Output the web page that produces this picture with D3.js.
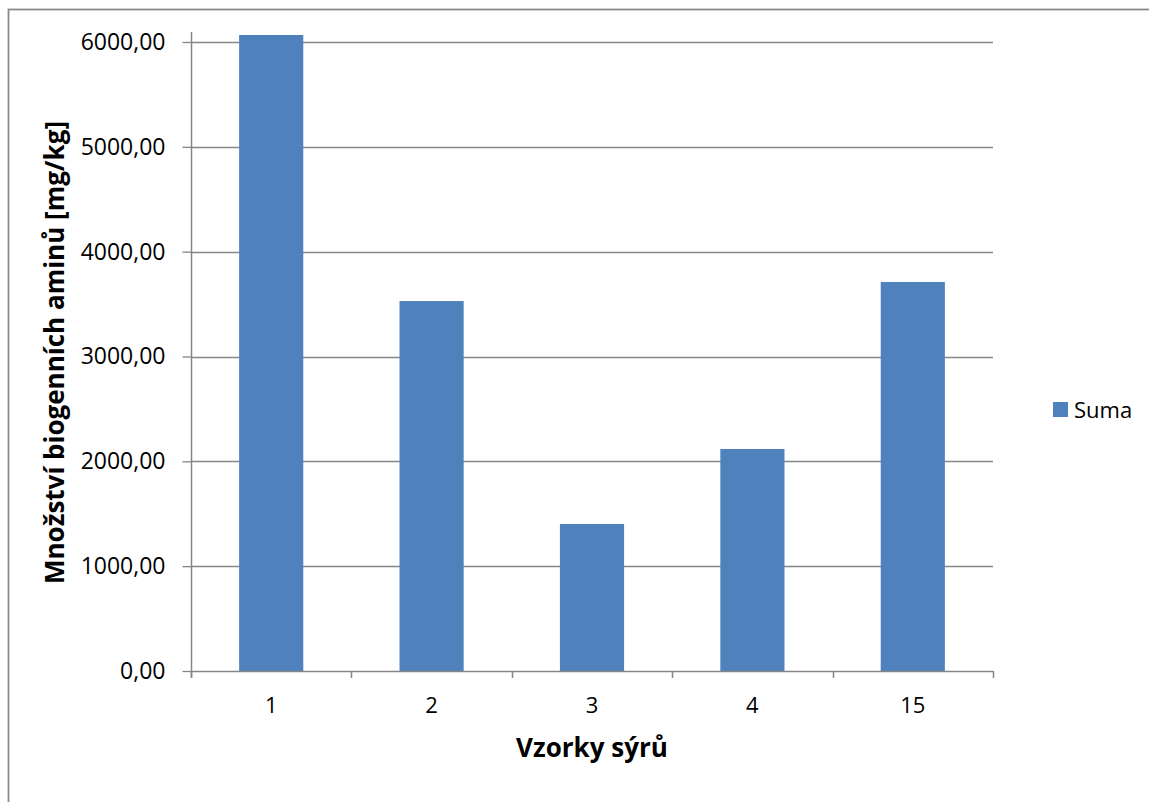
<!DOCTYPE html>
<html>
<head>
<meta charset="utf-8">
<script src="https://cdn.jsdelivr.net/npm/d3@7/dist/d3.min.js"></script>
<style>
  html, body { margin: 0; padding: 0; background: #fff; }
  svg { display: block; }
  text { font-family: "Open Sans", "Liberation Sans", sans-serif; fill: #000; }
</style>
</head>
<body>
<svg id="chart" width="1149" height="802"></svg>
<script>
// ---- data ----
const categories = ["1", "2", "3", "4", "15"];
const values = [6067, 3529, 1402, 2118, 3711];
const yTicks = [0, 1000, 2000, 3000, 4000, 5000, 6000];
const seriesName = "Suma";
const xTitle = "Vzorky sýrů";
const yTitle = "Množství biogenních aminů [mg/kg]";

// ---- layout ----
const W = 1149, H = 802;
const plot = { left: 191, right: 993, top: 42, bottom: 671 };
const gridColor = "#868686";
const barColor = "#4F81BD";

const svg = d3.select("#chart");

// outer chart border
svg.append("rect")
  .attr("x", 8.5).attr("y", 9.5)
  .attr("width", 1300).attr("height", 1000)
  .attr("fill", "#fff")
  .attr("stroke", "#8a8a8a").attr("stroke-width", 1.8);

const x = d3.scaleBand()
  .domain(categories)
  .range([plot.left, plot.right])
  .paddingInner(0.6).paddingOuter(0.3);

const y = d3.scaleLinear()
  .domain([0, 6000])
  .range([plot.bottom, plot.top]);

// gridlines
svg.append("g")
  .selectAll("line")
  .data(yTicks.filter(d => d > 0))
  .join("line")
  .attr("x1", plot.left).attr("x2", plot.right)
  .attr("y1", d => Math.round(y(d)) + 0.5).attr("y2", d => Math.round(y(d)) + 0.5)
  .attr("stroke", gridColor).attr("stroke-width", 1.3);

// bars
svg.append("g")
  .selectAll("rect")
  .data(values)
  .join("rect")
  .attr("x", (d, i) => x(categories[i]))
  .attr("width", x.bandwidth())
  .attr("y", d => y(d))
  .attr("height", d => y(0) - y(d))
  .attr("fill", barColor);

// y axis
const yAxis = d3.axisLeft(y)
  .tickValues(yTicks)
  .tickSize(9)
  .tickPadding(17)
  .tickFormat(d => d3.format(".2f")(d).replace(".", ","));
const gy = svg.append("g")
  .attr("transform", `translate(${plot.left + 0.5},0)`)
  .call(yAxis);
gy.select(".domain").remove();
gy.selectAll(".tick line").attr("stroke", gridColor).attr("stroke-width", 1.3);
gy.selectAll(".tick text").attr("font-size", 23).attr("font-family", "'Open Sans', sans-serif").attr("fill", "#000");
// y axis line (extends slightly above top tick)
svg.append("line")
  .attr("x1", plot.left + 0.5).attr("x2", plot.left + 0.5)
  .attr("y1", 32).attr("y2", plot.bottom + 7)
  .attr("stroke", gridColor).attr("stroke-width", 1.5);

// x axis
const xEdges = d3.scaleLinear().domain([0, categories.length]).range([plot.left, plot.right]);
const gx = svg.append("g");
gx.append("line")
  .attr("x1", plot.left).attr("x2", plot.right)
  .attr("y1", plot.bottom + 0.5).attr("y2", plot.bottom + 0.5)
  .attr("stroke", gridColor).attr("stroke-width", 1.5);
gx.selectAll("line.tk")
  .data(d3.range(categories.length + 1))
  .join("line")
  .attr("class", "tk")
  .attr("x1", d => Math.round(xEdges(d)) + 0.5).attr("x2", d => Math.round(xEdges(d)) + 0.5)
  .attr("y1", plot.bottom).attr("y2", plot.bottom + 7)
  .attr("stroke", gridColor).attr("stroke-width", 1.5);
gx.selectAll("text")
  .data(categories)
  .join("text")
  .attr("x", d => x(d) + x.bandwidth() / 2)
  .attr("y", 705)
  .attr("dy", "0.35em")
  .attr("text-anchor", "middle")
  .attr("font-size", 22)
  .text(d => d);

// axis titles
svg.append("text")
  .attr("x", (plot.left + plot.right) / 2)
  .attr("y", 757)
  .attr("text-anchor", "middle")
  .attr("font-size", 26)
  .attr("font-weight", "bold")
  .text(xTitle);

svg.append("text")
  .attr("transform", `translate(64,${(plot.top + plot.bottom) / 2 - 4}) rotate(-90)`)
  .attr("text-anchor", "middle")
  .attr("font-size", 26)
  .attr("font-weight", "bold")
  .text(yTitle);

// legend
const lg = svg.append("g").attr("transform", "translate(1053,402)");
lg.append("rect").attr("width", 15).attr("height", 15).attr("fill", barColor);
lg.append("text").attr("x", 21).attr("y", 8).attr("dy", "0.35em")
  .attr("font-size", 22).text(seriesName);
</script>
</body>
</html>
